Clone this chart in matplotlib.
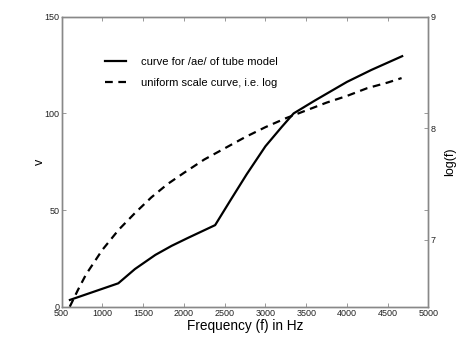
import matplotlib
matplotlib.use("Agg")
import matplotlib.pyplot as plt

plt.rcParams['font.family'] = ['Liberation Sans', 'DejaVu Sans']

# Solid curve: /ae/ tube model (left axis, v)
tube_freq = [602, 1195, 1400, 1650, 1850, 2050, 2383, 2570, 2770, 3000, 3200, 3346, 3600, 4000, 4300, 4677]
tube_v = [3.5, 12.1, 19.5, 26.8, 31.5, 35.6, 42.2, 55.0, 68.5, 83.0, 93.0, 100.0, 106.5, 116.3, 122.5, 129.6]

# Dashed curve: uniform scale curve, log(f) (right axis)
log_freq = [600, 700, 800, 900, 1000, 1200, 1400, 1600, 1800, 2000, 2250, 2500, 2750,
            3000, 3250, 3500, 3750, 4000, 4250, 4500, 4670]
log_val = [6.40, 6.55, 6.69, 6.80, 6.91, 7.09, 7.24, 7.38, 7.50, 7.60, 7.72, 7.82, 7.92,
           8.01, 8.09, 8.16, 8.23, 8.29, 8.36, 8.41, 8.45]

x_ticks = [500, 1000, 1500, 2000, 2500, 3000, 3500, 4000, 4500, 5000]
left_ticks = [0, 50, 100, 150]
right_ticks = [7, 8, 9]

grey = '#888888'
label_col = '#222222'

fig = plt.figure(figsize=(4.74, 3.46), dpi=100)
ax = fig.add_axes([0.130, 0.1136, 0.774, 0.838])
ax2 = ax.twinx()

ax.plot(tube_freq, tube_v, color='black', lw=1.6, label='curve for /ae/ of tube model')
ax2.plot(log_freq, log_val, color='black', lw=1.6, ls=(0, (3.5, 2.5)),
         label='uniform scale curve, i.e. log')

ax.set_xlim(500, 5000)
ax.set_ylim(0, 150)
ax2.set_ylim(6.4, 9)
ax.set_xticks(x_ticks)
ax.set_yticks(left_ticks)
ax2.set_yticks(right_ticks)

for a in (ax, ax2):
    for s in a.spines.values():
        s.set_color(grey)
        s.set_linewidth(1.0)
    a.tick_params(direction='in', length=3, width=0.6, color=grey, labelsize=6.5,
                  pad=1.5, labelcolor=label_col)
ax.tick_params(top=True, right=True, labelright=False)

ax.set_xlabel('Frequency (f) in Hz', fontsize=9.8, labelpad=1)
ax.set_ylabel('v', fontsize=9, labelpad=-1)
ax2.set_ylabel('log(f)', fontsize=9, labelpad=6)

h1, l1 = ax.get_legend_handles_labels()
h2, l2 = ax2.get_legend_handles_labels()
ax.legend(h1 + h2, l1 + l2, loc='upper left', bbox_to_anchor=(0.09, 0.895),
          frameon=False, fontsize=8, handlelength=1.9, handletextpad=1.4,
          labelspacing=1.0)

fig.savefig('out.png', dpi=100)
